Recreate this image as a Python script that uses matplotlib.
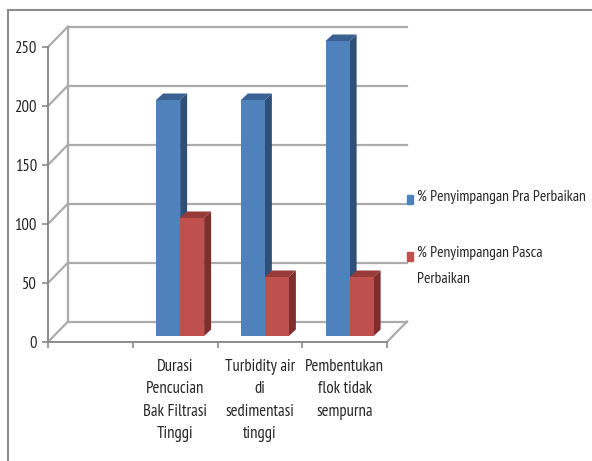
import numpy as np
import matplotlib
matplotlib.use("Agg")
import matplotlib.pyplot as plt
from matplotlib.patches import Polygon, Rectangle
from matplotlib.lines import Line2D

plt.rcParams['font.family'] = ['PT Sans Narrow', 'DejaVu Sans']

# ---- data ----
categories = ["", "Durasi\nPencucian\nBak Filtrasi\nTinggi",
              "Turbidity air\ndi\nsedimentasi\ntinggi",
              "Pembentukan\nflok tidak\nsempurna"]
pra = [np.nan, 200, 200, 250]
pasca = [np.nan, 100, 50, 50]
series_names = ["% Penyimpangan Pra Perbaikan", "% Penyimpangan Pasca\nPerbaikan"]
yticks = [0, 50, 100, 150, 200, 250]

# ---- styling ----
W, H = 592, 461
fig = plt.figure(figsize=(W / 100, H / 100), dpi=100)
fig.patch.set_facecolor("white")

x0, x1 = 48, 387   # pixel extents of front axis
y0, y1 = 342, 47   # pixel of 0 and 250
ax = fig.add_axes([x0 / W, (H - y0) / H, (x1 - x0) / W, (y0 - y1) / H])
ax.set_xlim(0, len(categories))
ax.set_ylim(0, 250)
ax.set_facecolor("none")

px_x = (x1 - x0) / len(categories)     # pixels per category
px_y = (y0 - y1) / 250.0               # pixels per unit
DX = 20 / px_x                         # wall depth in data units
DY = 20.5 / px_y

grid_c = "#ABABAB"
axis_c = "#8A8A8A"
txt_c = "#262626"

# back wall gridlines and left wall diagonals
for t in yticks:
    ax.add_line(Line2D([DX, len(categories) + DX], [t + DY, t + DY], color=grid_c, lw=1.6,
                       clip_on=False, zorder=1))
    ax.add_line(Line2D([0, DX], [t, t + DY], color=grid_c, lw=1.6, clip_on=False, zorder=1))
ax.add_line(Line2D([DX, DX], [DY, yticks[-1] + DY], color=grid_c, lw=1.6, clip_on=False, zorder=1))
# floor right diagonal
ax.add_line(Line2D([len(categories), len(categories) + DX], [0, DY], color=grid_c, lw=1.6,
                   clip_on=False, zorder=1))

# bars
bw = 24 / px_x
bdx, bdy = 5 / px_x, 6 / px_y      # bar front offset into depth
ddx, ddy = 7 / px_x, 6.5 / px_y    # bar depth
cols = [("#4F81BD", "#2E4F78", "#3A6192"), ("#C0504D", "#7E2F2D", "#963B38")]
xs = np.arange(len(categories)) + 0.5
z = 3
for i in range(len(categories)):
    for s, vals in enumerate([pra, pasca]):
        v = vals[i]
        if np.isnan(v):
            continue
        front, side, top = cols[s]
        left = xs[i] + bdx - bw + s * bw
        bars = ax.bar(left, v, width=bw, bottom=bdy, align="edge", color=front, lw=0, zorder=z + 2)
        for p in bars.patches:
            p.set_clip_on(False)
        r = left + bw
        ax.add_patch(Polygon([[r, bdy], [r + ddx, bdy + ddy], [r + ddx, v + bdy + ddy], [r, v + bdy]],
                             closed=True, color=side, lw=0, zorder=z, clip_on=False))
        ax.add_patch(Polygon([[left, v + bdy], [left + ddx, v + bdy + ddy], [r + ddx, v + bdy + ddy],
                              [r, v + bdy]], closed=True, color=top, lw=0, zorder=z + 1, clip_on=False))
        z += 3

# axes
for sp in ["top", "right"]:
    ax.spines[sp].set_visible(False)
for sp in ["left", "bottom"]:
    ax.spines[sp].set_color(axis_c)
    ax.spines[sp].set_linewidth(1.4)
    ax.spines[sp].set_zorder(2)
ax.set_yticks(yticks)
ax.set_yticklabels([str(t) for t in yticks])
ax.tick_params(axis="y", length=4, width=1.2, color=axis_c, labelsize=12, pad=4, labelcolor=txt_c)
ax.set_xticks(np.arange(len(categories) + 1))
ax.set_xticklabels([])
ax.set_xticks(xs, minor=True)
ax.set_xticklabels(categories, minor=True, fontsize=12, linespacing=1.55, color=txt_c,
                   verticalalignment="top")
ax.tick_params(axis="x", which="major", length=4, width=1.2, color=axis_c)
ax.tick_params(axis="x", which="minor", length=0, pad=12)

# legend (drawn manually)
leg_y = [200, 256]
for s, name in enumerate(series_names):
    yy = leg_y[s]
    fig.patches.append(Rectangle((407 / W, (H - yy - 4.5) / H), 6 / W, 9 / H, color=cols[s][0],
                                 transform=fig.transFigure, figure=fig))
    fig.text(417 / W, (H - yy + 10) / H, name, fontsize=11.2, va="top", ha="left",
             color=txt_c, linespacing=2.05)

# outer frame
fig.lines.append(Line2D([8 / W, 8 / W], [0, (H - 10) / H], color="#8C8C8C", lw=1.5,
                        transform=fig.transFigure))
fig.lines.append(Line2D([8 / W, 1], [(H - 10) / H, (H - 10) / H], color="#8C8C8C", lw=1.5,
                        transform=fig.transFigure))

fig.savefig("out.png", dpi=100)
